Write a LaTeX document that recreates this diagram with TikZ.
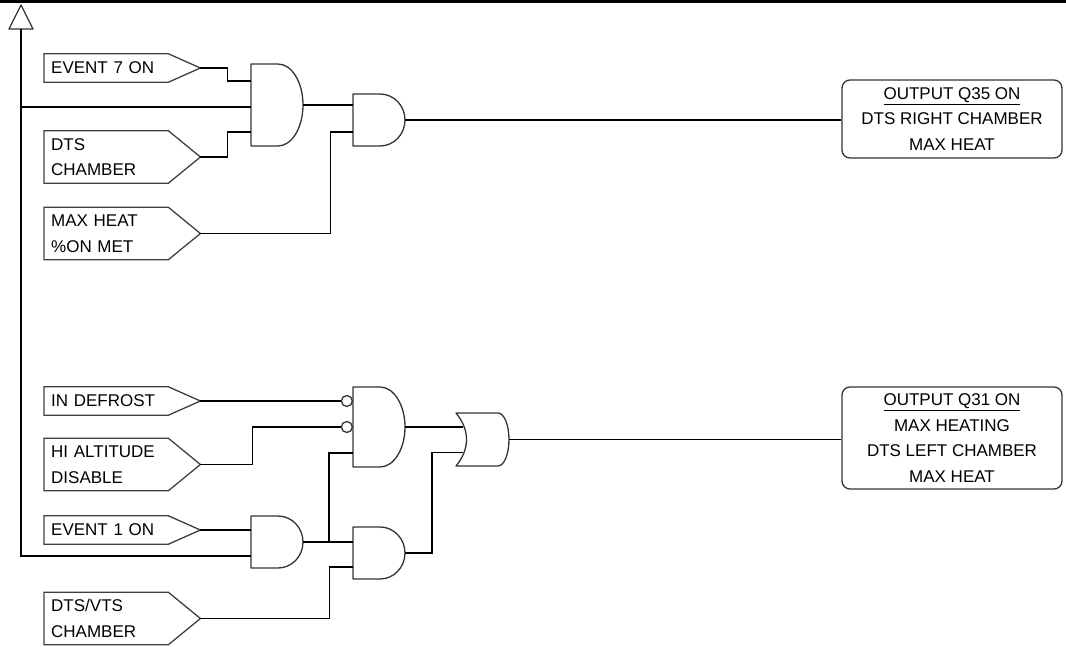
\documentclass[tikz,border=0pt]{standalone}
\usepackage{fontspec}
\setmainfont{Liberation Sans}
\usetikzlibrary{calc,positioning}

\tikzset{
  every node/.style={font=\fontsize{17}{25.5}\selectfont},
  wire/.style={line width=1.3pt},
  gate/.style={line width=1.3pt, draw=black!80, line join=round},
  tag/.style={anchor=west, minimum width=156pt, text width=142pt, inner xsep=7pt, inner ysep=0pt, align=left},
  tagline/.style={line width=1.3pt, draw=black!75},
  outbox/.style={draw=black!80, line width=1.3pt, rounded corners=8pt, minimum width=220pt, align=center, inner sep=0pt},
  bubble/.style={circle, draw=black!80, line width=1.3pt, minimum size=11pt, inner sep=0pt, anchor=east},
}

% name, left, top, height, input offsets
\newcommand{\andgate}[5]{%
  \draw[gate] (#2,#3) -- ++(27,0) arc[start angle=-90,end angle=90,x radius=25,y radius={#4/2}] -- ++(-27,0) -- cycle;
  \coordinate (#1-o) at ({#2+52},{#3+#4/2});
  \foreach \k/\pp in {#5} {\coordinate (#1-\k) at (#2,{#3+\pp});}
}
% name, left, top, height
\newcommand{\orgate}[4]{%
  \draw[gate] (#2,#3) -- ++(42,0) arc[start angle=-90,end angle=90,x radius=11,y radius={#4/2}] -- ++(-42,0)
    .. controls ({#2+14},{#3+#4*0.68}) and ({#2+14},{#3+#4*0.32}) .. (#2,#3) -- cycle;
  \coordinate (#1-o) at ({#2+53},{#3+#4/2});
  \coordinate (#1-1) at ({#2+7},{#3+#4*0.265});
  \coordinate (#1-2) at ({#2+7},{#3+#4*0.75});
}

\begin{document}
\begin{tikzpicture}[x=1pt,y=-1pt]
\useasboundingbox (0,0) rectangle (1066,647);
\draw[line width=3.3pt] (0,1.65) -- (1066,1.65);

% input tags
\node[tag, minimum height=28pt] (ev7) at (44,68) {EVENT 7 ON};
\node[tag, minimum height=52pt] (dts) at (44,157) {DTS\\CHAMBER};
\node[tag, minimum height=52pt] (maxh) at (44,233.5) {MAX HEAT\\\%ON MET};
\node[tag, minimum height=28pt] (defr) at (44,401) {IN DEFROST};
\node[tag, minimum height=52pt] (hialt) at (44,464.5) {HI ALTITUDE\\DISABLE};
\node[tag, minimum height=28pt] (ev1) at (44,530) {EVENT 1 ON};
\node[tag, minimum height=52pt] (vts) at (44,618.5) {DTS/VTS\\CHAMBER};
\foreach \t in {ev7,dts,maxh,defr,hialt,ev1,vts}
  \draw[tagline] (\t.north west) -- ([xshift=-32pt]\t.north east) -- (\t.east)
    -- ([xshift=-32pt]\t.south east) -- (\t.south west) -- cycle;

% outputs
\node[outbox, minimum height=78pt] (q35) at (952,119) {\underline{OUTPUT Q35 ON}\\DTS RIGHT CHAMBER\\MAX HEAT};
\node[outbox, minimum height=102pt] (q31) at (952,438) {\underline{OUTPUT Q31 ON}\\MAX HEATING\\DTS LEFT CHAMBER\\MAX HEAT};

% gates
\andgate{g1}{251}{64}{82}{1/17,2/43,3/68}
\andgate{g2}{353}{94}{52}{1/11,2/38}
\andgate{g3}{353}{387}{80}{1/14,2/40,3/66}
\andgate{g4}{251}{516}{52}{1/14,2/40}
\andgate{g5}{353}{527}{52}{1/15,2/40}
\orgate{g6}{456}{413}{53}
\node[bubble] (inv1) at (g3-1) {};
\node[bubble] (inv2) at (g3-2) {};

% bus
\draw[gate] (9,29) -- (21,5) -- (33,29) -- cycle;
\coordinate (bus) at (21,29);
\draw[wire] (bus) |- (g4-2);
\draw[wire] (bus |- g1-2) -- (g1-2);

% wiring, top
\draw[wire] (ev7.east) -- ++(27,0) |- (g1-1);
\draw[wire] (dts.east) -- ++(27,0) |- (g1-3);
\draw[wire] (g1-o) -- (g2-1);
\draw[wire] (maxh.east) -- ++(130,0) |- (g2-2);
\draw[wire] (g2-o) -- (g2-o -| q35.west);

% wiring, bottom
\draw[wire] (defr.east) -- (inv1.west);
\draw[wire] (hialt.east) -- ++(52,0) |- (inv2.west);
\draw[wire] (ev1.east) -- (g4-1);
\draw[wire] (g4-o) -- (g4-o -| g5-1);
\coordinate (jn) at ($(g4-o)!0.52!(g5-1)$);
\draw[wire] (jn) |- (g3-3);
\draw[wire] (vts.east) -- ++(129,0) |- (g5-2);
\draw[wire] (g3-o) -- (g3-o -| g6-1);
\draw[wire] (g5-o) -- ++(27,0) |- (g6-2);
\draw[wire] (g6-o) -- (g6-o -| q31.west);
\end{tikzpicture}
\end{document}
